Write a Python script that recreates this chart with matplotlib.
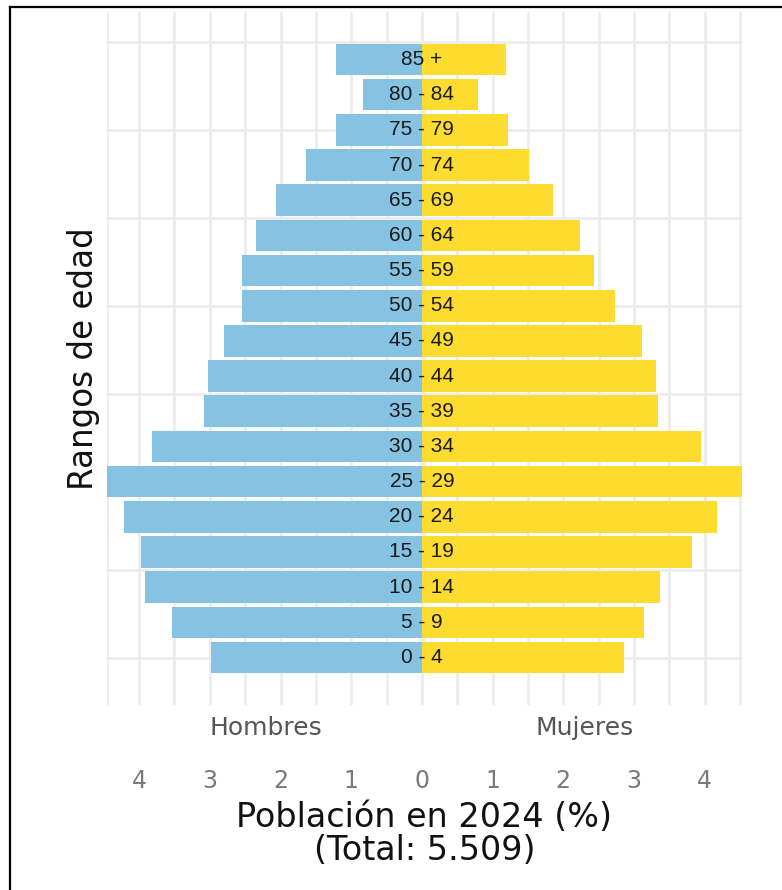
import matplotlib.pyplot as plt
from matplotlib.lines import Line2D
from matplotlib.transforms import blended_transform_factory

age_groups = ["0 - 4", "5 - 9", "10 - 14", "15 - 19", "20 - 24", "25 - 29",
              "30 - 34", "35 - 39", "40 - 44", "45 - 49", "50 - 54", "55 - 59",
              "60 - 64", "65 - 69", "70 - 74", "75 - 79", "80 - 84", "85 +"]
hombres = [2.98, 3.53, 3.92, 3.98, 4.21, 4.47, 3.82, 3.08, 3.02, 2.80,
           2.54, 2.54, 2.34, 2.06, 1.64, 1.22, 0.83, 1.22]
mujeres = [2.86, 3.14, 3.37, 3.82, 4.18, 4.53, 3.95, 3.34, 3.31, 3.12,
           2.73, 2.44, 2.24, 1.86, 1.51, 1.22, 0.80, 1.19]
tick_vals = [-4, -3, -2, -1, 0, 1, 2, 3, 4]
tick_labels = ["4", "3", "2", "1", "0", "1", "2", "3", "4"]

azul = "#86c3e2"
amarillo = "#fddc2f"

fig = plt.figure(figsize=(7.82, 8.9), dpi=100)
ax = fig.add_axes([107 / 782, 1 - 705 / 890, 635 / 782, 693 / 890])

pos = list(range(len(age_groups)))
ax.barh(pos, [-v for v in hombres], height=0.9, color=azul, zorder=2)
ax.barh(pos, mujeres, height=0.9, color=amarillo, zorder=2)

for p, lab in zip(pos, age_groups):
    ax.text(0, p, lab, ha="center", va="center", fontsize=15,
            family="Liberation Sans", color="#1a1a1a", zorder=3)

# grid
xmin, xmax = -4.455, 4.53
for gx in [i * 0.5 for i in range(-9, 10)] + [xmin]:
    ax.axvline(gx, color="#ebebeb", lw=1.8, zorder=0)
for gy in [i * 2.5 for i in range(0, 8)]:
    ax.axhline(gy, color="#ebebeb", lw=1.8, zorder=0)

ax.set_xlim(xmin, xmax)
ax.set_ylim(-1.35, 18.35)
ax.set_yticks([])
ax.set_xticks(tick_vals)
ax.set_xticklabels(tick_labels)
ax.tick_params(axis="x", length=0, pad=46, labelsize=17, labelcolor="#7a7a7a")
for s in ax.spines.values():
    s.set_visible(False)

tr = blended_transform_factory(ax.transData, ax.transAxes)
ax.text(-2.21, -0.033, "Hombres", transform=tr, ha="center", va="center",
        fontsize=18, color="#555555")
ax.text(2.31, -0.033, "Mujeres", transform=tr, ha="center", va="center",
        fontsize=18, color="#555555")

ax.set_xlabel("Población en 2024 (%)\n(Total: 5.509)", fontsize=24,
              labelpad=6, linespacing=1.0, color="#111111")
fig.text(84 / 782, 1 - 359 / 890, "Rangos de edad", rotation=90,
         ha="center", va="center", fontsize=23.5, color="#111111")

# marco
fig.add_artist(Line2D([10 / 782, 1], [1 - 7 / 890, 1 - 7 / 890],
                      transform=fig.transFigure, color="black", lw=1.6))
fig.add_artist(Line2D([10 / 782, 10 / 782], [0, 1 - 7 / 890],
                      transform=fig.transFigure, color="black", lw=1.6))

fig.savefig("out.png", dpi=100)
